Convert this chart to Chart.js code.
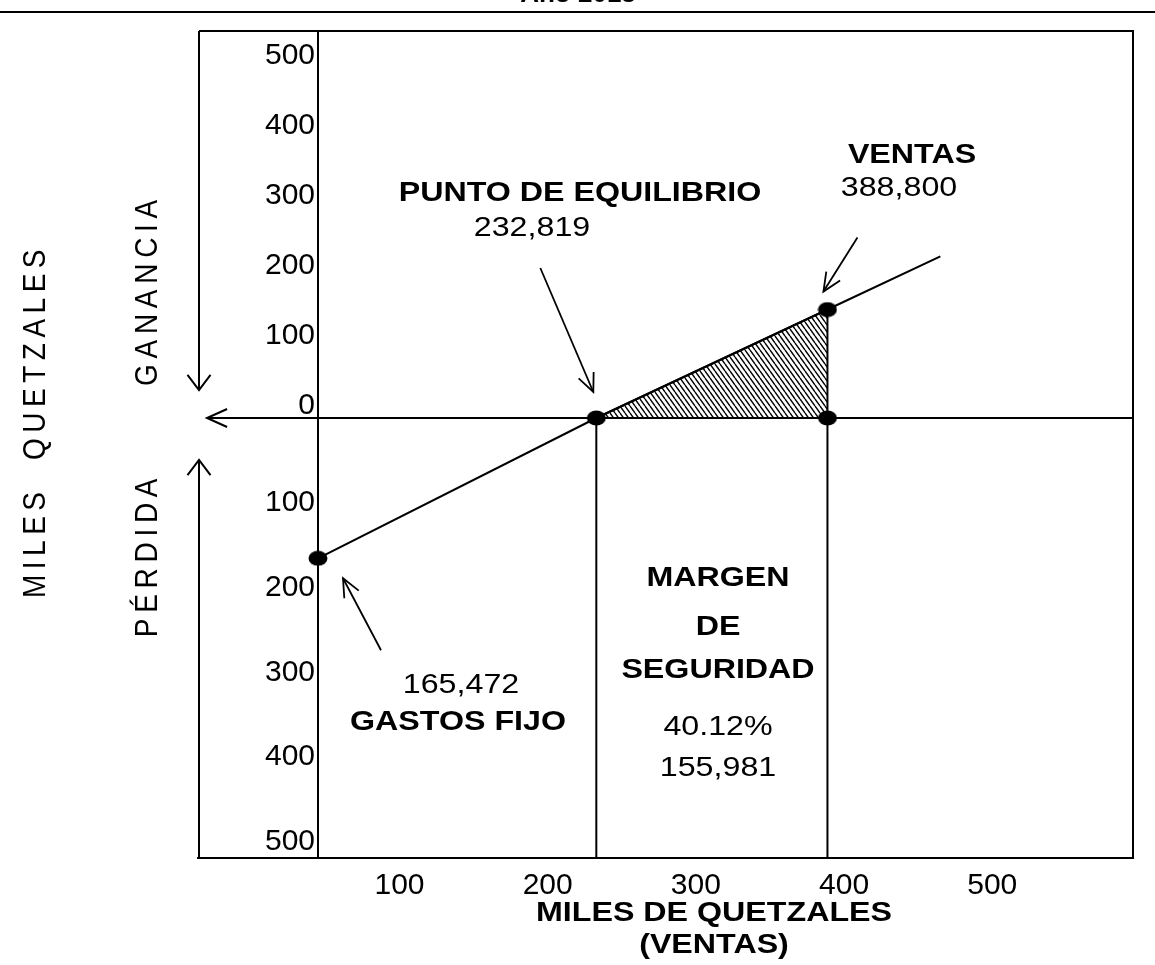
<!DOCTYPE html>
<html>
<head>
<meta charset="utf-8">
<script src="https://cdn.jsdelivr.net/npm/chart.js@4.4.1/dist/chart.umd.min.js"></script>
<style>
  html, body { margin: 0; padding: 0; background: #fff; }
  canvas { display: block; }
</style>
</head>
<body>
<canvas id="grafico" width="1155" height="965"></canvas>
<script>
// valores en miles de quetzales
const ejeXTicks = [100, 200, 300, 400, 500];
const gananciaTicks = [0, 100, 200, 300, 400, 500];
const perdidaTicks = [-100, -200, -300, -400, -500];

// recta: gastos fijos -> punto de equilibrio
const perdidaX = [45, 232.819];
const perdidaY = [-165.472, 0];
// recta: punto de equilibrio -> ventas -> fin
const gananciaX = [232.819, 388.8, 465];
const gananciaY = [0, 155, 231];

const puntoEquilibrio = 232.819;
const ventas = 388.8;
const ventasGanancia = 155;

const X_MIN = 45, X_MAX = 595;
const G_MAX = 553, P_MIN = -519;

const FUENTE = '"Liberation Sans", Arial, sans-serif';

const canvas = document.getElementById('grafico');
const ctx0 = canvas.getContext('2d');

// rayado del margen de seguridad
function patronRayado() {
    const c = document.createElement('canvas');
    c.width = 5; c.height = 7;
    const g = c.getContext('2d');
    g.strokeStyle = '#000';
    g.lineWidth = 1.4;
    g.beginPath();
    g.moveTo(-5, 0); g.lineTo(0, 7);
    g.moveTo(0, 0); g.lineTo(5, 7);
    g.moveTo(5, 0); g.lineTo(10, 7);
    g.stroke();
    return ctx0.createPattern(c, 'repeat');
}

// punto elíptico como en el original
function puntoNegro() {
    const c = document.createElement('canvas');
    c.width = 20; c.height = 16;
    const g = c.getContext('2d');
    g.fillStyle = '#000';
    g.beginPath();
    g.ellipse(10, 8, 9.5, 7.5, 0, 0, Math.PI * 2);
    g.fill();
    return c;
}
const punto = puntoNegro();

const xy = (xs, ys) => xs.map((x, i) => ({ x: x, y: ys[i] }));

function punta(ctx, x, y, ang, largo, abre) {
    ctx.beginPath();
    ctx.moveTo(x - largo * Math.cos(ang - abre), y - largo * Math.sin(ang - abre));
    ctx.lineTo(x, y);
    ctx.lineTo(x - largo * Math.cos(ang + abre), y - largo * Math.sin(ang + abre));
    ctx.stroke();
}

function flecha(ctx, x1, y1, x2, y2) {
    ctx.beginPath();
    ctx.moveTo(x1, y1);
    ctx.lineTo(x2, y2);
    ctx.stroke();
    punta(ctx, x2, y2, Math.atan2(y2 - y1, x2 - x1), 20, 0.42);
}

function texto(ctx, s, x, y, negrita) {
    ctx.save();
    ctx.translate(x, y);
    ctx.scale(1.15, 1);
    ctx.font = (negrita ? 'bold ' : '') + '28px ' + FUENTE;
    ctx.fillStyle = '#000';
    ctx.textAlign = 'center';
    ctx.textBaseline = 'middle';
    ctx.fillText(s, 0, 0);
    ctx.restore();
}

function textoVertical(ctx, s, x, y, espacio) {
    ctx.save();
    ctx.translate(x, y);
    ctx.rotate(-Math.PI / 2);
    ctx.scale(1, 1.15);
    ctx.font = '28px ' + FUENTE;
    ctx.letterSpacing = espacio + 'px';
    ctx.fillStyle = '#000';
    ctx.textAlign = 'center';
    ctx.textBaseline = 'middle';
    ctx.fillText(s, 0, 0);
    ctx.restore();
}

const decorado = {
    id: 'decorado',
    beforeDatasetsDraw(chart) {
        const { ctx, chartArea: a, scales } = chart;
        const y0 = scales.yG.getPixelForValue(0);
        const izq = a.left - 119;
        ctx.save();
        ctx.strokeStyle = '#000';
        ctx.lineWidth = 2;
        ctx.beginPath();
        ctx.moveTo(izq, a.top); ctx.lineTo(a.right, a.top);
        ctx.lineTo(a.right, a.bottom); ctx.lineTo(izq - 2, a.bottom);
        ctx.moveTo(izq, a.top); ctx.lineTo(izq, y0 - 28);
        ctx.moveTo(izq, a.bottom); ctx.lineTo(izq, y0 + 42);
        ctx.moveTo(izq + 8, y0); ctx.lineTo(a.right, y0);
        ctx.stroke();
        punta(ctx, izq, y0 - 28, Math.PI / 2, 19, 0.65);
        punta(ctx, izq, y0 + 42, -Math.PI / 2, 19, 0.65);
        punta(ctx, izq + 8, y0, Math.PI, 22, 0.42);
        ctx.restore();
    },
    afterDraw(chart) {
        const { ctx, scales } = chart;
        const { x, yG, yP } = scales;
        ctx.save();
        ctx.strokeStyle = '#000';
        ctx.lineWidth = 2;

        // encabezado
        ctx.beginPath();
        ctx.moveTo(0, 12); ctx.lineTo(chart.width, 12);
        ctx.stroke();
        ctx.font = 'bold 26px ' + FUENTE;
        ctx.fillStyle = '#000';
        ctx.textAlign = 'center';
        ctx.textBaseline = 'alphabetic';
        ctx.fillText('Año 2013', 578, 2);

        // flechas de señalamiento
        const pe = { x: x.getPixelForValue(puntoEquilibrio), y: yG.getPixelForValue(0) };
        const pv = { x: x.getPixelForValue(ventas), y: yG.getPixelForValue(ventasGanancia) };
        const pg = { x: x.getPixelForValue(perdidaX[0]), y: yP.getPixelForValue(perdidaY[0]) };
        ctx.lineWidth = 1.8;
        flecha(ctx, pe.x - 56, pe.y - 150, pe.x - 3, pe.y - 26);
        flecha(ctx, pv.x + 30, pv.y - 72, pv.x - 4, pv.y - 18);
        flecha(ctx, pg.x + 63, pg.y + 92, pg.x + 25, pg.y + 20);

        // textos
        texto(ctx, 'PUNTO DE EQUILIBRIO', 580, 193, true);
        texto(ctx, '232,819', 532, 228, false);
        texto(ctx, 'VENTAS', 912, 155, true);
        texto(ctx, '388,800', 899, 188, false);
        texto(ctx, '165,472', 461, 685, false);
        texto(ctx, 'GASTOS FIJO', 458, 722, true);
        texto(ctx, 'MARGEN', 718, 578, true);
        texto(ctx, 'DE', 718, 627, true);
        texto(ctx, 'SEGURIDAD', 718, 670, true);
        texto(ctx, '40.12%', 718, 727, false);
        texto(ctx, '155,981', 718, 768, false);
        texto(ctx, 'MILES DE QUETZALES', 714, 913, true);
        texto(ctx, '(VENTAS)', 714, 945, true);

        textoVertical(ctx, 'MILES  QUETZALES', 36, 421, 5.5);
        textoVertical(ctx, 'GANANCIA', 148, 290, 5.7);
        textoVertical(ctx, 'PÉRDIDA', 148, 555, 5.7);
        ctx.restore();
    }
};

const fuenteTicks = { family: FUENTE, size: 30 };

const grafico = new Chart(canvas, {
    type: 'line',
    data: {
        datasets: [
            {
                label: 'Ganancia',
                data: xy(gananciaX, gananciaY),
                yAxisID: 'yG',
                borderColor: '#000',
                borderWidth: 2,
                pointStyle: punto,
                pointRadius: [7, 7, 0],
                clip: false,
                order: 1
            },
            {
                label: 'Pérdida',
                data: xy(perdidaX, perdidaY),
                yAxisID: 'yP',
                borderColor: '#000',
                borderWidth: 2,
                pointStyle: punto,
                pointRadius: [7, 0],
                clip: false,
                order: 1
            },
            {
                label: 'Margen de seguridad',
                data: [
                    { x: puntoEquilibrio, y: 0 },
                    { x: ventas, y: ventasGanancia },
                    { x: ventas, y: 0 }
                ],
                yAxisID: 'yG',
                borderColor: '#000',
                borderWidth: 2,
                backgroundColor: patronRayado(),
                fill: 'origin',
                pointStyle: punto,
                pointRadius: [0, 0, 7],
                clip: false,
                order: 3
            },
            {
                label: 'Equilibrio',
                data: [{ x: puntoEquilibrio, y: 0 }, { x: puntoEquilibrio, y: P_MIN }],
                yAxisID: 'yP',
                borderColor: '#000',
                borderWidth: 2,
                pointRadius: 0,
                order: 2
            },
            {
                label: 'Ventas',
                data: [{ x: ventas, y: 0 }, { x: ventas, y: P_MIN }],
                yAxisID: 'yP',
                borderColor: '#000',
                borderWidth: 2,
                pointRadius: 0,
                order: 2
            }
        ]
    },
    options: {
        responsive: false,
        animation: false,
        layout: { padding: { top: 31, right: 22, left: 0, bottom: 0 } },
        plugins: {
            legend: { display: false },
            tooltip: { enabled: false }
        },
        scales: {
            x: {
                type: 'linear',
                min: X_MIN,
                max: X_MAX,
                grid: { display: false, drawTicks: false },
                border: { display: false },
                afterBuildTicks: s => { s.ticks = ejeXTicks.map(v => ({ value: v })); },
                afterFit: s => { s.height = 107; },
                ticks: { font: fuenteTicks, color: '#000', padding: 10, autoSkip: false, maxRotation: 0 }
            },
            // en la pila, el primer eje definido queda abajo
            yP: {
                type: 'linear',
                position: 'left',
                stack: 'eje',
                stackWeight: 440,
                min: P_MIN,
                max: 0,
                grid: { display: false, drawTicks: false },
                border: { display: true, color: '#000', width: 2 },
                afterBuildTicks: s => { s.ticks = perdidaTicks.map(v => ({ value: v })); },
                afterFit: s => { s.width = 318; },
                ticks: {
                    font: fuenteTicks, color: '#000', padding: 3, autoSkip: false,
                    callback: v => Math.abs(v)
                }
            },
            yG: {
                type: 'linear',
                position: 'left',
                stack: 'eje',
                stackWeight: 387,
                min: 0,
                max: G_MAX,
                grid: { display: false, drawTicks: false },
                border: { display: true, color: '#000', width: 2 },
                afterBuildTicks: s => { s.ticks = gananciaTicks.map(v => ({ value: v })); },
                afterFit: s => { s.width = 318; },
                ticks: { font: fuenteTicks, color: '#000', padding: 3, labelOffset: -12, autoSkip: false }
            }
        }
    },
    plugins: [decorado]
});
</script>
</body>
</html>
